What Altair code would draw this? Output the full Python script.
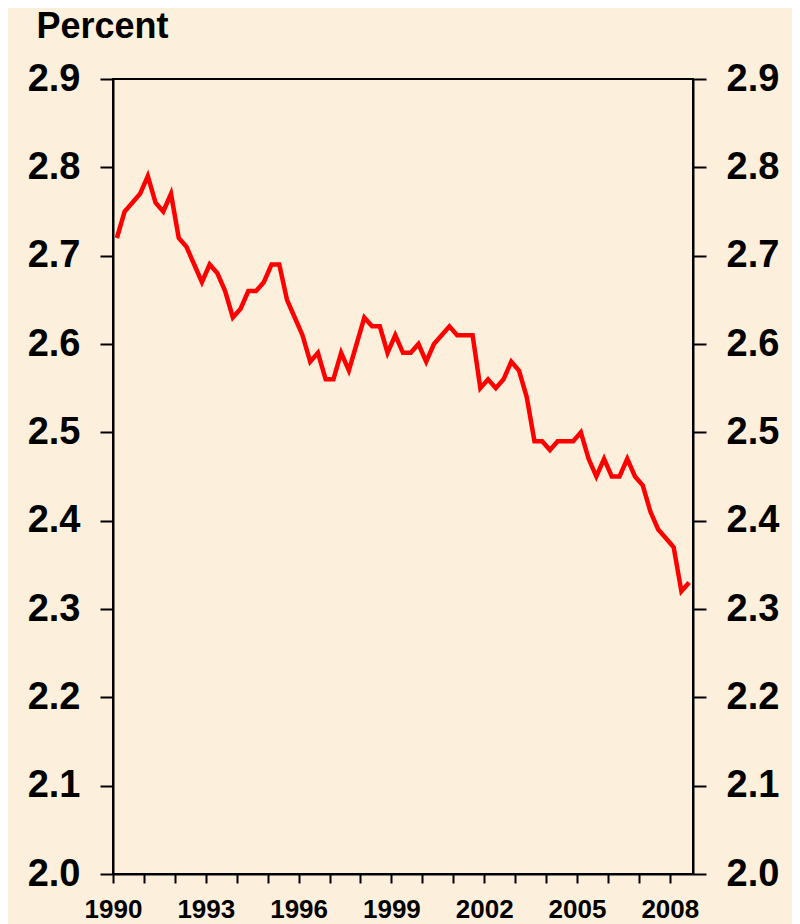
import altair as alt
import pandas as pd

# Quarterly observations, 1990Q1 .. 2008Q3
quarter_labels = [f"{y}Q{q}" for y in range(1990, 2009) for q in (1, 2, 3, 4)][:75]
values = [
    2.72, 2.75, 2.76, 2.77, 2.79, 2.76, 2.75, 2.77, 2.72, 2.71,
    2.69, 2.67, 2.69, 2.68, 2.66, 2.63, 2.64, 2.66, 2.66, 2.67,
    2.69, 2.69, 2.65, 2.63, 2.61, 2.58, 2.59, 2.56, 2.56, 2.59,
    2.57, 2.60, 2.63, 2.62, 2.62, 2.59, 2.61, 2.59, 2.59, 2.60,
    2.58, 2.60, 2.61, 2.62, 2.61, 2.61, 2.61, 2.55, 2.56, 2.55,
    2.56, 2.58, 2.57, 2.54, 2.49, 2.49, 2.48, 2.49, 2.49, 2.49,
    2.50, 2.47, 2.45, 2.47, 2.45, 2.45, 2.47, 2.45, 2.44, 2.41,
    2.39, 2.38, 2.37, 2.32, 2.33,
]
year_ticks = list(range(1990, 2009))
y_ticks = [2.0, 2.1, 2.2, 2.3, 2.4, 2.5, 2.6, 2.7, 2.8, 2.9]

df = pd.DataFrame({"quarter": quarter_labels, "value": values})
df["t"] = df["quarter"].apply(lambda s: int(s[:4]) + (int(s[5]) - 0.5) / 4)

FONT = "Liberation Sans"

x_scale = alt.Scale(domain=[1990, 2008.75], nice=False, zero=False)
y_scale = alt.Scale(domain=[2.0, 2.9], nice=False, zero=False)

common_axis = dict(
    values=y_ticks, format=".1f", grid=False,
    domainColor="black", domainWidth=2,
    tickColor="black", tickWidth=2, tickSize=13,
    labelFont=FONT, labelFontWeight="bold", labelFontSize=38,
    labelColor="black", labelPadding=20, labelBaseline="middle",
)

x_axis = alt.Axis(
    values=year_ticks, grid=False, title=None,
    labelExpr="(datum.value - 1990) % 3 == 0 ? format(datum.value, 'd') : ''",
    domainColor="black", domainWidth=2,
    tickColor="black", tickWidth=2, tickSize=9,
    labelFont=FONT, labelFontWeight="bold", labelFontSize=26,
    labelColor="black", labelPadding=13, labelFlush=False, labelOverlap=False,
)

left = alt.Chart(df).mark_line(color="#FF0000", strokeWidth=4.5).encode(
    x=alt.X("t:Q", scale=x_scale, axis=x_axis),
    y=alt.Y("value:Q", scale=y_scale, axis=alt.Axis(
        orient="left", title="Percent",
        titleAngle=0, titleX=-77, titleY=-42, titleAlign="left",
        titleBaseline="alphabetic", titleFont=FONT, titleFontWeight="bold",
        titleFontSize=36, titleColor="black",
        **common_axis)),
)

right = alt.Chart(df).mark_line(opacity=0, strokeWidth=1).encode(
    x=alt.X("t:Q", scale=x_scale, axis=x_axis),
    y=alt.Y("value:Q", scale=y_scale, axis=alt.Axis(
        orient="right", title=None, **common_axis)),
)

chart = alt.layer(left, right).resolve_scale(y="independent").properties(
    width=580, height=795,
    autosize=alt.AutoSizeParams(type="none"),
    padding={"left": 105, "top": 71, "right": 99, "bottom": 56},
    background="#FCF0DC",
).configure_view(stroke="black", strokeWidth=2)

chart.save("out.html", embed_options={"renderer": "svg", "actions": False})
